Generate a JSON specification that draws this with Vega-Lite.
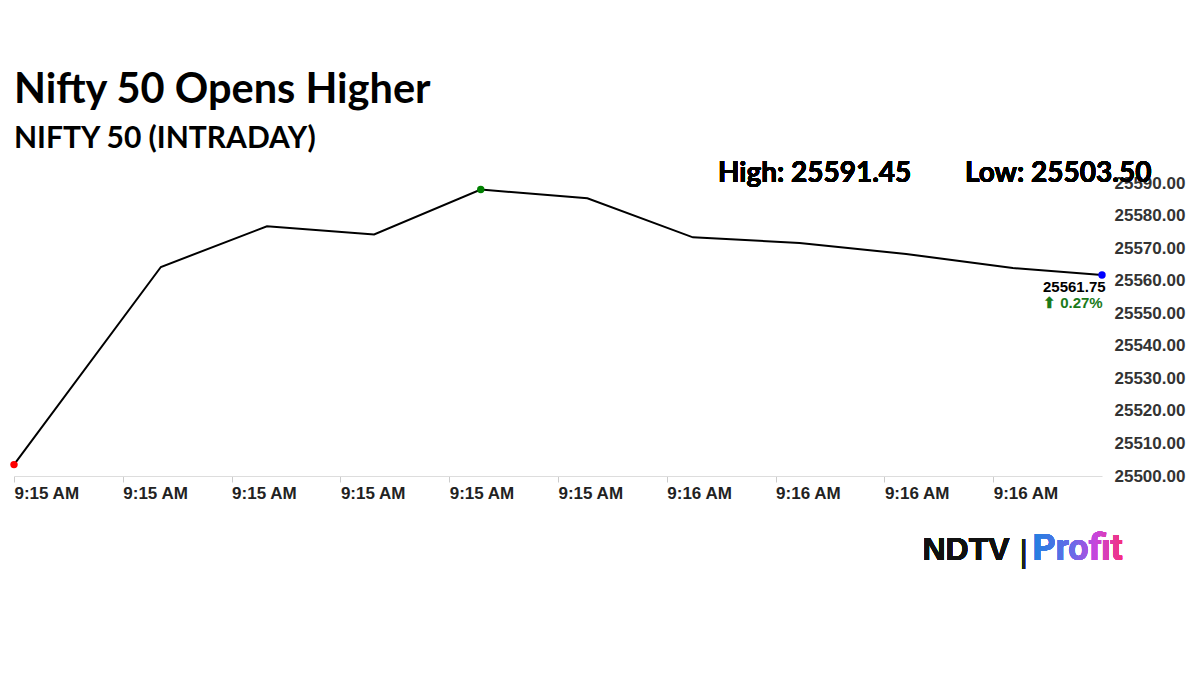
{
  "$schema": "https://vega.github.io/schema/vega-lite/v6.json",
  "width": 1088,
  "height": 293,
  "autosize": {"type": "none"},
  "padding": {"left": 14, "top": 183, "right": 98, "bottom": 198},
  "background": "white",
  "view": {"stroke": null},
  "title": {
    "text": "Nifty 50 Opens Higher",
    "subtitle": "NIFTY 50 (INTRADAY)",
    "anchor": "start",
    "frame": "group",
    "font": "Lato",
    "fontSize": 41.5,
    "fontWeight": "bold",
    "color": "#000000",
    "subtitleFont": "Lato",
    "subtitleFontSize": 30,
    "subtitleFontWeight": "bold",
    "subtitleColor": "#000000",
    "subtitlePadding": 13,
    "offset": 6
  },
  "data": {
    "values": [
      {"time": "2025-07-01T09:15:00", "price": 25503.5, "marker": "Low"},
      {"time": "2025-07-01T09:15:13.500", "price": 25564.2, "marker": null},
      {"time": "2025-07-01T09:15:23.250", "price": 25576.7, "marker": null},
      {"time": "2025-07-01T09:15:33.100", "price": 25574.2, "marker": null},
      {"time": "2025-07-01T09:15:42.900", "price": 25588.0, "marker": "High"},
      {"time": "2025-07-01T09:15:52.700", "price": 25585.3, "marker": null},
      {"time": "2025-07-01T09:16:02.400", "price": 25573.3, "marker": null},
      {"time": "2025-07-01T09:16:12.200", "price": 25571.6, "marker": null},
      {"time": "2025-07-01T09:16:22", "price": 25568.2, "marker": null},
      {"time": "2025-07-01T09:16:31.800", "price": 25563.9, "marker": null},
      {"time": "2025-07-01T09:16:40", "price": 25561.75, "marker": "Last"}
    ]
  },
  "encoding": {
    "x": {
      "field": "time",
      "type": "temporal",
      "scale": {
        "domain": [
          {"year": 2025, "month": 7, "date": 1, "hours": 9, "minutes": 15, "seconds": 0},
          {"year": 2025, "month": 7, "date": 1, "hours": 9, "minutes": 16, "seconds": 40}
        ],
        "nice": false
      },
      "axis": {
        "title": null,
        "format": "%-I:%M %p",
        "values": [
          {"year": 2025, "month": 7, "date": 1, "hours": 9, "minutes": 15, "seconds": 0},
          {"year": 2025, "month": 7, "date": 1, "hours": 9, "minutes": 15, "seconds": 10},
          {"year": 2025, "month": 7, "date": 1, "hours": 9, "minutes": 15, "seconds": 20},
          {"year": 2025, "month": 7, "date": 1, "hours": 9, "minutes": 15, "seconds": 30},
          {"year": 2025, "month": 7, "date": 1, "hours": 9, "minutes": 15, "seconds": 40},
          {"year": 2025, "month": 7, "date": 1, "hours": 9, "minutes": 15, "seconds": 50},
          {"year": 2025, "month": 7, "date": 1, "hours": 9, "minutes": 16, "seconds": 0},
          {"year": 2025, "month": 7, "date": 1, "hours": 9, "minutes": 16, "seconds": 10},
          {"year": 2025, "month": 7, "date": 1, "hours": 9, "minutes": 16, "seconds": 20},
          {"year": 2025, "month": 7, "date": 1, "hours": 9, "minutes": 16, "seconds": 30}
        ],
        "grid": false,
        "labelAlign": "left",
        "labelFlush": false,
        "labelOverlap": false,
        "labelFont": "Liberation Sans",
        "labelFontSize": 17,
        "labelFontWeight": "bold",
        "labelColor": "#222222",
        "labelPadding": 3,
        "tickSize": 6,
        "tickColor": "#cccccc",
        "domainColor": "#dddddd"
      }
    },
    "y": {
      "field": "price",
      "type": "quantitative",
      "scale": {"domain": [25500, 25590], "nice": false, "zero": false},
      "axis": {
        "title": null,
        "orient": "right",
        "values": [25500, 25510, 25520, 25530, 25540, 25550, 25560, 25570, 25580, 25590],
        "format": ".2f",
        "grid": false,
        "domain": false,
        "ticks": false,
        "labelPadding": 12,
        "labelFont": "Liberation Sans",
        "labelFontSize": 17,
        "labelFontWeight": "bold",
        "labelColor": "#333333"
      }
    }
  },
  "layer": [
    {
      "mark": {"type": "line", "color": "#000000", "strokeWidth": 2, "clip": false}
    },
    {
      "transform": [{"filter": "datum.marker != null"}],
      "mark": {"type": "point", "filled": true, "size": 55, "opacity": 1},
      "encoding": {
        "color": {
          "field": "marker",
          "type": "nominal",
          "scale": {"domain": ["Low", "High", "Last"], "range": ["#ff0000", "#008000", "#0000ff"]},
          "legend": null
        }
      }
    },
    {
      "transform": [{"filter": "datum.marker == 'Last'"}],
      "mark": {"type": "text", "align": "left", "baseline": "alphabetic", "dx": -59, "dy": 17, "font": "Liberation Sans", "fontSize": 15, "fontWeight": "bold", "color": "#000000"},
      "encoding": {"text": {"field": "price", "type": "quantitative", "format": ".2f"}}
    },
    {
      "transform": [{"filter": "datum.marker == 'Last'"}],
      "mark": {"type": "text", "align": "left", "baseline": "alphabetic", "dx": -59, "dy": 33, "font": "Liberation Sans", "fontSize": 15, "fontWeight": "bold", "color": "#1a7a1a"},
      "encoding": {"text": {"datum": "⬆ 0.27%"}}
    },
    {
      "mark": {"type": "text", "align": "left", "baseline": "alphabetic", "font": "Lato", "fontSize": 28, "fontWeight": "bold", "color": "#000000"},
      "encoding": {
        "x": {"datum": {"year": 2025, "month": 7, "date": 1, "hours": 9, "minutes": 16, "seconds": 4, "milliseconds": 700}, "type": "temporal"},
        "y": {"datum": 25590.3},
        "text": {"datum": "High: 25591.45"}
      }
    },
    {
      "mark": {"type": "text", "align": "left", "baseline": "alphabetic", "font": "Lato", "fontSize": 28, "fontWeight": "bold", "color": "#000000"},
      "encoding": {
        "x": {"datum": {"year": 2025, "month": 7, "date": 1, "hours": 9, "minutes": 16, "seconds": 27, "milliseconds": 400}, "type": "temporal"},
        "y": {"datum": 25590.3},
        "text": {"datum": "Low: 25503.50"}
      }
    },
    {
      "mark": {"type": "text", "align": "left", "baseline": "alphabetic", "font": "Liberation Sans", "fontSize": 32, "fontWeight": "bold", "color": "#111111"},
      "encoding": {
        "x": {"datum": {"year": 2025, "month": 7, "date": 1, "hours": 9, "minutes": 16, "seconds": 23, "milliseconds": 500}, "type": "temporal"},
        "y": {"datum": 25474.2},
        "text": {"datum": "NDTV"}
      }
    },
    {
      "mark": {"type": "text", "align": "left", "baseline": "alphabetic", "dx": 97, "dy": 2, "font": "Liberation Sans", "fontSize": 32, "fontWeight": "normal", "color": "#222222"},
      "encoding": {
        "x": {"datum": {"year": 2025, "month": 7, "date": 1, "hours": 9, "minutes": 16, "seconds": 23, "milliseconds": 500}, "type": "temporal"},
        "y": {"datum": 25474.2},
        "text": {"datum": "|"}
      }
    },
    {
      "mark": {
        "type": "text", "align": "left", "baseline": "alphabetic", "dx": 110, "font": "Roboto", "fontSize": 36, "fontWeight": "bold",
        "color": {"gradient": "linear", "x1": 0, "y1": 0, "x2": 1, "y2": 0, "stops": [
          {"offset": 0, "color": "#1f80e0"},
          {"offset": 0.45, "color": "#6a6ae8"},
          {"offset": 0.7, "color": "#c845dc"},
          {"offset": 1, "color": "#f5307a"}
        ]}
      },
      "encoding": {
        "x": {"datum": {"year": 2025, "month": 7, "date": 1, "hours": 9, "minutes": 16, "seconds": 23, "milliseconds": 500}, "type": "temporal"},
        "y": {"datum": 25474.2},
        "text": {"datum": "Profit"}
      }
    }
  ]
}
